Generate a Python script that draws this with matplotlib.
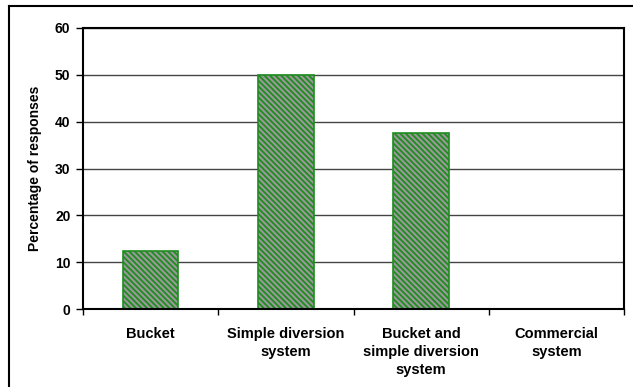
import matplotlib
matplotlib.use("Agg")
import matplotlib.pyplot as plt
from matplotlib.lines import Line2D

# --- Data ---
categories = ["Bucket", "Simple diversion\nsystem",
              "Bucket and\nsimple diversion\nsystem", "Commercial\nsystem"]
responses = [12.5, 50.0, 37.5, 0.0]
y_ticks = [0, 10, 20, 30, 40, 50, 60]

plt.rcParams['font.family'] = ['Liberation Sans', 'DejaVu Sans']
plt.rcParams['font.weight'] = 'bold'
plt.rcParams['hatch.linewidth'] = 1.3

fig = plt.figure(figsize=(6.33, 3.87), dpi=100)
ax = fig.add_axes([0.131, 0.201, 0.855, 0.727])

x = list(range(len(categories)))
ax.bar(x, responses, width=0.41, color="#999999", edgecolor="#1e8c1e",
       hatch="\\\\\\\\\\\\", linewidth=1.2, zorder=2)

ax.set_xlim(-0.5, len(categories) - 0.5)
ax.set_ylim(0, 60)
ax.set_yticks(y_ticks)
ax.set_yticklabels([str(v) for v in y_ticks], fontsize=10, fontweight='bold')

# category labels between boundary ticks
ax.set_xticks([i - 0.5 for i in range(len(categories) + 1)])
ax.set_xticklabels([])
ax.set_xticks(x, minor=True)
ax.set_xticklabels(categories, minor=True, fontsize=10.5, fontweight='bold',
                   linespacing=1.33, va='top')
ax.tick_params(axis='x', which='minor', length=0, pad=13)
ax.tick_params(axis='x', which='major', length=4, width=1, direction='out')
ax.tick_params(axis='y', length=5, width=1, direction='out', pad=4)

ax.yaxis.grid(True, color="#444444", linewidth=1.0)
ax.set_axisbelow(True)

for side in ['left', 'bottom', 'top', 'right']:
    ax.spines[side].set_color('black')
    ax.spines[side].set_linewidth(1.5)
    ax.spines[side].set_zorder(3)

ax.set_ylabel("Percentage of responses", fontsize=10, fontweight='bold',
              labelpad=9)

# outer chart border
fig.add_artist(Line2D([0.014, 0.014], [0.0, 0.984], color='black', lw=1.5,
                      transform=fig.transFigure))
fig.add_artist(Line2D([0.014, 1.0], [0.984, 0.984], color='black', lw=1.5,
                      transform=fig.transFigure))

fig.savefig("out.png", dpi=100)
